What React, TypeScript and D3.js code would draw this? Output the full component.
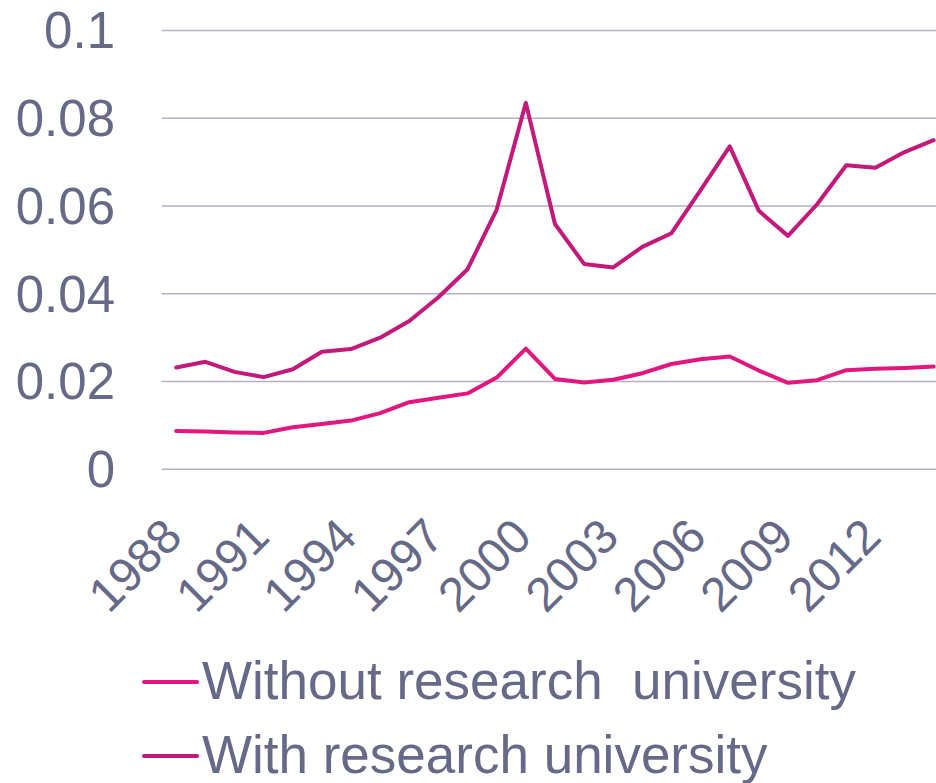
import * as d3 from "d3";

// Years on the category axis
const years = d3.range(1988, 2015);
const tickYears = [1988, 1991, 1994, 1997, 2000, 2003, 2006, 2009, 2012];
const yTicks = [0, 0.02, 0.04, 0.06, 0.08, 0.1];

// Values
const withoutResearch = [
  0.0087, 0.0086, 0.0084, 0.0083, 0.0096, 0.0103, 0.0111, 0.0128, 0.0153,
  0.0163, 0.0173, 0.0209, 0.0275, 0.0206, 0.0198, 0.0204, 0.0219, 0.0240,
  0.0251, 0.0257, 0.0225, 0.0197, 0.0203, 0.0226, 0.0229, 0.0231, 0.0234,
];
const withResearch = [
  0.0232, 0.0245, 0.0222, 0.0210, 0.0228, 0.0268, 0.0274, 0.0300, 0.0338,
  0.0392, 0.0456, 0.0592, 0.0835, 0.0559, 0.0468, 0.0460, 0.0507, 0.0538,
  0.0636, 0.0736, 0.0589, 0.0532, 0.0604, 0.0693, 0.0687, 0.0723, 0.0750,
];

const seriesNames = ["Without research  university", "With research university"];
const seriesColors = ["#E3157F", "#C2197A"];

const textColor = "#666A88";
const gridColor = "#B3B1C3";
const font = "'Liberation Sans', Arial, sans-serif";

export default function App() {
  const width = 936;
  const height = 783;

  // plot area
  const left = 161.7;
  const band = 29.13;
  const top = 30.5;
  const bottom = 469.3;

  const x = d3
    .scaleBand<number>()
    .domain(years)
    .range([left, left + band * years.length]);
  const cx = (yr: number) => (x(yr) as number) + x.bandwidth() / 2;

  const y = d3.scaleLinear().domain([0, 0.1]).range([bottom, top]);

  const line = d3
    .line<number>()
    .x((_, i) => cx(years[i]))
    .y((d) => y(d));

  const fmt = (v: number) => (v === 0 ? "0" : String(+v.toFixed(2)));

  return (
    <svg
      width={width}
      height={height}
      style={{ position: "absolute", left: 0, top: 0, background: "#fff" }}
    >
      {/* horizontal gridlines */}
      {yTicks.map((t) => (
        <line
          key={t}
          x1={left}
          x2={left + band * years.length}
          y1={y(t)}
          y2={y(t)}
          stroke={gridColor}
          strokeWidth={1.5}
        />
      ))}

      {/* y labels */}
      {yTicks.map((t) => (
        <text
          key={"l" + t}
          x={115}
          y={y(t)}
          dy="0.35em"
          textAnchor="end"
          fontFamily={font}
          fontSize={51}
          fill={textColor}
        >
          {fmt(t)}
        </text>
      ))}

      {/* x labels, rotated */}
      {tickYears.map((yr) => (
        <text
          key={yr}
          transform={`translate(${cx(yr) + 8},539) rotate(-45)`}
          textAnchor="end"
          fontFamily={font}
          fontSize={48}
          fill={textColor}
        >
          {yr}
        </text>
      ))}

      {/* series lines */}
      {[withoutResearch, withResearch].map((vals, i) => (
        <path
          key={i}
          d={line(vals) ?? ""}
          fill="none"
          stroke={seriesColors[i]}
          strokeWidth={4}
          strokeLinejoin="round"
          strokeLinecap="round"
        />
      ))}

      {/* legend */}
      {seriesNames.map((name, i) => (
        <g key={name} transform={`translate(0,${i * 74})`}>
          <line
            x1={144}
            x2={197}
            y1={682}
            y2={682}
            stroke={seriesColors[i]}
            strokeWidth={4}
            strokeLinecap="round"
          />
          <text
            x={202}
            y={699}
            fontFamily={font}
            fontSize={53}
            fill={textColor}
            style={{ whiteSpace: "pre" }}
          >
            {name}
          </text>
        </g>
      ))}
    </svg>
  );
}
